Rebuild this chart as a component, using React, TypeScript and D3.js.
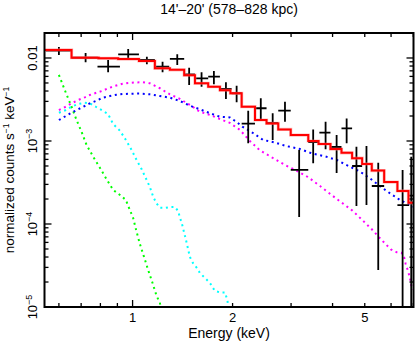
import React from "react";
import * as d3 from "d3";

const W = 415;
const H = 343;
const plot = { left: 44.5, right: 413.5, top: 33, bottom: 307 };

const titleText = "14'\u201320' (578\u2013828 kpc)";
const xLabel = "Energy (keV)";

const xDomain = [0.543, 7.01];
const yDomain = [1e-5, 0.02];

const xLabelTicks = [1, 2, 5];
const xMajorTicks = [1];
const xMinorTicks = [0.6, 0.7, 0.8, 0.9, 2, 3, 4, 5, 6, 7];
const yMajorTicks = [1e-5, 1e-4, 1e-3, 1e-2];
const yTickLabels = ["10|\u22125", "10|\u22124", "10|\u22123", "0.01"];

// data bins (keV) and rates (counts/s/keV)
const dataE = [0.6, 0.722, 0.844, 0.97, 1.104, 1.231, 1.363, 1.48, 1.613, 1.757, 1.91, 2.057, 2.229, 2.432, 2.641, 2.876, 3.173, 3.497, 3.811, 4.114, 4.41, 4.72, 5.06, 5.49, 6.5, 6.9];
const dataElo = [0.548, 0.656, 0.784, 0.905, 1.045, 1.175, 1.295, 1.43, 1.541, 1.689, 1.832, 1.987, 2.13, 2.336, 2.531, 2.745, 2.993, 3.38, 3.65, 3.942, 4.255, 4.58, 4.91, 5.25, 6.27, 6.8];
const dataEhi = [0.655, 0.786, 0.916, 1.045, 1.167, 1.289, 1.43, 1.541, 1.689, 1.832, 1.987, 2.13, 2.336, 2.531, 2.745, 2.993, 3.38, 3.623, 3.942, 4.255, 4.58, 4.91, 5.25, 5.72, 6.8, 7.0];
const dataRate = [0.0123, 0.0101, 0.00786, 0.01108, 0.00946, 0.00786, 0.00973, 0.00636, 0.00569, 0.00596, 0.00424, 0.00376, 0.00162, 0.00248, 0.00165, 0.00232, 0.000448, 0.00097, 0.00126, 0.000847, 0.00142, 0.0005, 0.00053, 0.000287, 0.000169, 0.00022];
const dataRateLo = [0.01087, 0.00888, 0.00673, 0.00973, 0.0084, 0.00673, 0.00824, 0.00473, 0.00451, 0.00482, 0.00321, 0.00292, 0.000938, 0.00179, 0.00103, 0.00171, 0.000121, 0.000538, 0.000794, 0.000412, 0.000938, 0.000165, 0.000169, 0.0000279, 1e-7, 1e-7];
const dataRateHi = [0.01359, 0.01149, 0.00946, 0.01283, 0.01037, 0.00902, 0.01108, 0.00764, 0.00673, 0.00697, 0.0051, 0.00464, 0.00232, 0.00327, 0.00216, 0.00297, 0.000779, 0.00138, 0.00171, 0.00118, 0.00187, 0.000854, 0.00087, 0.000548, 0.000448, 0.000647];

// folded total model (step)
const modelEdges = [0.543, 0.655, 0.79, 0.905, 1.045, 1.167, 1.295, 1.43, 1.541, 1.689, 1.832, 1.97, 2.13, 2.336, 2.531, 2.745, 2.993, 3.38, 3.63, 3.942, 4.255, 4.58, 4.91, 5.25, 5.72, 6.27, 6.77, 7.01];
const modelRate = [0.0125, 0.0101, 0.0099, 0.0097, 0.0092, 0.0075, 0.0072, 0.0062, 0.00495, 0.0045, 0.0041, 0.00375, 0.00259, 0.00179, 0.00163, 0.00138, 0.00118, 0.001, 0.00092, 0.0008, 0.00072, 0.00062, 0.00053, 0.00044, 0.00032, 0.00025, 0.00018];

// model components
const compGreen = [[0.6, 0.00624], [0.611, 0.00518], [0.63, 0.00379], [0.655, 0.00259], [0.678, 0.00179], [0.702, 0.00129], [0.727, 0.000895], [0.761, 0.000647], [0.797, 0.000477], [0.835, 0.000346], [0.874, 0.000257], [0.916, 0.000224], [0.954, 0.000195], [0.981, 0.000148], [1.004, 0.000118], [1.028, 0.0000807], [1.052, 0.0000574], [1.082, 0.0000404], [1.114, 0.0000279], [1.149, 0.0000193], [1.181, 0.0000136], [1.208, 0.0000113], [1.215, 0.00001]];
const compCyan = [[0.6, 0.00219], [0.63, 0.00236], [0.655, 0.00259], [0.686, 0.00279], [0.718, 0.00289], [0.743, 0.00284], [0.779, 0.00255], [0.812, 0.00232], [0.844, 0.00211], [0.874, 0.0016], [0.916, 0.00133], [0.959, 0.001], [0.993, 0.000779], [1.028, 0.000591], [1.064, 0.00046], [1.102, 0.00034], [1.127, 0.00028], [1.154, 0.000212], [1.181, 0.000177], [1.208, 0.000157], [1.251, 0.000156], [1.295, 0.00016], [1.341, 0.00016], [1.37, 0.000144], [1.388, 0.000121], [1.411, 0.0000973], [1.448, 0.0000641], [1.488, 0.00004], [1.519, 0.0000339], [1.562, 0.0000295], [1.594, 0.0000257], [1.651, 0.0000224], [1.709, 0.0000195], [1.769, 0.0000156], [1.832, 0.000015], [1.896, 0.000015], [1.93, 0.0000121], [1.94, 0.00001]];
const compMagenta = [[0.6, 0.00236], [0.63, 0.00259], [0.655, 0.00284], [0.686, 0.00312], [0.718, 0.00336], [0.743, 0.00358], [0.779, 0.00382], [0.814, 0.00404], [0.844, 0.00432], [0.884, 0.0046], [0.927, 0.00486], [0.97, 0.005], [1.016, 0.00507], [1.074, 0.0051], [1.127, 0.00495], [1.208, 0.00432], [1.295, 0.00365], [1.388, 0.00321], [1.488, 0.00272], [1.594, 0.00225], [1.709, 0.00206], [1.832, 0.00184], [1.963, 0.00165], [2.105, 0.00136], [2.255, 0.001], [2.418, 0.00077], [2.645, 0.000624], [2.876, 0.000514], [3.126, 0.000436], [3.373, 0.000368], [3.665, 0.000287], [3.97, 0.000224], [4.26, 0.000181], [4.59, 0.000145], [4.91, 0.000112], [5.25, 0.0000863], [5.62, 0.0000641], [5.99, 0.0000495], [6.24, 0.0000456], [6.45, 0.0000451], [6.57, 0.0000397], [6.64, 0.000033], [6.76, 0.0000266], [6.84, 0.0000222], [6.89, 0.0000189], [6.95, 0.000016]];
const compBlue = [[0.6, 0.00179], [0.63, 0.002], [0.655, 0.00219], [0.686, 0.00241], [0.718, 0.00264], [0.743, 0.00284], [0.779, 0.00306], [0.814, 0.00333], [0.854, 0.00348], [0.895, 0.00361], [0.937, 0.00368], [0.981, 0.00371], [1.052, 0.00373], [1.127, 0.00365], [1.208, 0.00348], [1.295, 0.00333], [1.388, 0.00303], [1.488, 0.00266], [1.594, 0.00241], [1.709, 0.00216], [1.832, 0.00196], [1.963, 0.00192], [2.05, 0.00171], [2.14, 0.00149], [2.31, 0.00124], [2.47, 0.00103], [2.68, 0.00096], [2.9, 0.00087], [3.19, 0.0008], [3.46, 0.00071], [3.81, 0.00065], [4.12, 0.00059], [4.51, 0.00049], [4.83, 0.00043], [5.18, 0.000355], [5.55, 0.000287], [5.96, 0.000234], [6.38, 0.000195], [6.84, 0.000169], [7.0, 0.000162]];

const components = [
  { pts: compGreen, color: "#00ff00" },
  { pts: compCyan, color: "#00ffff" },
  { pts: compMagenta, color: "#ff00ff" },
  { pts: compBlue, color: "#0000ff" },
];

const font = "'Liberation Sans', Arial, Helvetica, sans-serif";

const App = () => {
  const x = d3.scaleLog().domain(xDomain).range([plot.left, plot.right]);
  const y = d3.scaleLog().domain(yDomain).range([plot.bottom, plot.top]);

  const compLine = d3
    .line<number[]>()
    .x((d) => x(d[0]))
    .y((d) => y(d[1]));

  const stepPts = modelRate.map((v, i) => [modelEdges[i], v]);
  stepPts.push([modelEdges[modelEdges.length - 1], modelRate[modelRate.length - 1]]);
  const stepLine = d3
    .line<number[]>()
    .x((d) => x(d[0]))
    .y((d) => y(d[1]))
    .curve(d3.curveStepAfter);

  const yMinor: number[] = [];
  for (let p = -5; p <= -2; p++) {
    for (let k = 2; k <= 9; k++) {
      const v = k * Math.pow(10, p);
      if (v < yDomain[1] * 0.999) yMinor.push(v);
    }
  }

  const majLen = 7;
  const minLen = 4;
  const tickStroke = { stroke: "#000", strokeWidth: 1.3 };

  return (
    <svg
      width={W}
      height={H}
      style={{ position: "fixed", left: 0, top: 0, background: "#fff" }}
      fontFamily={font}
    >
      <defs>
        <clipPath id="plotClip">
          <rect x={plot.left} y={plot.top} width={plot.right - plot.left} height={plot.bottom - plot.top} />
        </clipPath>
      </defs>

      <text x={(plot.left + plot.right) / 2} y={14} textAnchor="middle" fontSize={14}>
        {titleText}
      </text>

      <g clipPath="url(#plotClip)">
        {components.map((c, i) => (
          <path
            key={i}
            d={compLine(c.pts) || ""}
            fill="none"
            stroke={c.color}
            strokeWidth={2}
            strokeDasharray="2 3.6"
          />
        ))}

        {dataE.map((e, i) => (
          <g key={i} stroke="#000" strokeWidth={1.8}>
            <line x1={x(dataElo[i])} x2={x(dataEhi[i])} y1={y(dataRate[i])} y2={y(dataRate[i])} />
            <line x1={x(e)} x2={x(e)} y1={y(dataRateLo[i])} y2={y(dataRateHi[i])} />
          </g>
        ))}

        <path d={stepLine(stepPts) || ""} fill="none" stroke="#ff8080" strokeWidth={3.2} opacity={0.5} />
        <path d={stepLine(stepPts) || ""} fill="none" stroke="#ff0000" strokeWidth={2} />
      </g>

      {/* ticks on all four sides */}
      <g>
        {xMajorTicks.map((t) => (
          <g key={"xM" + t}>
            <line x1={x(t)} x2={x(t)} y1={plot.bottom} y2={plot.bottom - majLen} {...tickStroke} />
            <line x1={x(t)} x2={x(t)} y1={plot.top} y2={plot.top + majLen} {...tickStroke} />
          </g>
        ))}
        {xMinorTicks.map((t) => (
          <g key={"xm" + t}>
            <line x1={x(t)} x2={x(t)} y1={plot.bottom} y2={plot.bottom - minLen} {...tickStroke} />
            <line x1={x(t)} x2={x(t)} y1={plot.top} y2={plot.top + minLen} {...tickStroke} />
          </g>
        ))}
        {yMajorTicks.map((t) => (
          <g key={"yM" + t}>
            <line x1={plot.left} x2={plot.left + majLen} y1={y(t)} y2={y(t)} {...tickStroke} />
            <line x1={plot.right} x2={plot.right - majLen} y1={y(t)} y2={y(t)} {...tickStroke} />
          </g>
        ))}
        {yMinor.map((t) => (
          <g key={"ym" + t}>
            <line x1={plot.left} x2={plot.left + minLen} y1={y(t)} y2={y(t)} {...tickStroke} />
            <line x1={plot.right} x2={plot.right - minLen} y1={y(t)} y2={y(t)} {...tickStroke} />
          </g>
        ))}
      </g>

      <rect
        x={plot.left}
        y={plot.top}
        width={plot.right - plot.left}
        height={plot.bottom - plot.top}
        fill="none"
        stroke="#000"
        strokeWidth={2}
      />

      {xLabelTicks.map((t) => (
        <text key={"xl" + t} x={x(t)} y={322} textAnchor="middle" fontSize={13}>
          {t}
        </text>
      ))}
      <text x={(plot.left + plot.right) / 2} y={338} textAnchor="middle" fontSize={14}>
        {xLabel}
      </text>

      {yMajorTicks.map((t, i) => {
        const [base, sup] = yTickLabels[i].split("|");
        return (
          <text
            key={"yl" + t}
            transform={`translate(37,${y(t)}) rotate(-90)`}
            textAnchor="middle"
            fontSize={13}
          >
            {base}
            {sup && (
              <tspan fontSize={9} dy={-5}>
                {sup}
              </tspan>
            )}
          </text>
        );
      })}

      <text
        transform={`translate(13.5,${(plot.top + plot.bottom) / 2}) rotate(-90)`}
        textAnchor="middle"
        fontSize={13.5}
      >
        normalized counts s
        <tspan fontSize={8.5} dy={-5}>{"\u22121"}</tspan>
        <tspan dy={5}> keV</tspan>
        <tspan fontSize={8.5} dy={-5}>{"\u22121"}</tspan>
      </text>
    </svg>
  );
};

export default App;
